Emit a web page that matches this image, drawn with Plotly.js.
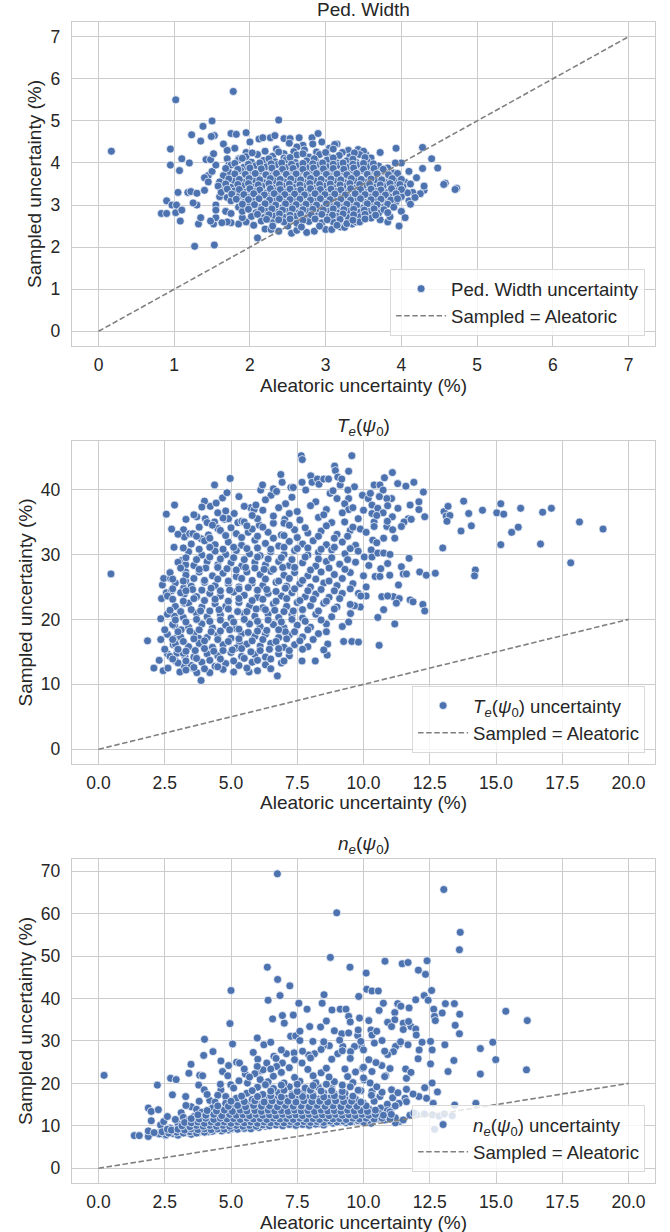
<!DOCTYPE html>
<html>
<head>
<meta charset="utf-8">
<script src="https://cdn.plot.ly/plotly-3.0.1.min.js"></script>
<style>html,body{margin:0;padding:0;background:#fff;}#chart{width:670px;height:1232px;}</style>
</head>
<body>
<div id="chart"></div>
<script>
// ---------- DATA ----------
const panelTitles = ['Ped. Width', '<i>T</i><sub><i>e</i></sub>(<i>ψ</i><sub>0</sub>)', '<i>n</i><sub><i>e</i></sub>(<i>ψ</i><sub>0</sub>)'];
const seriesNames = ['Ped. Width uncertainty', '<i>T</i><sub><i>e</i></sub>(<i>ψ</i><sub>0</sub>) uncertainty', '<i>n</i><sub><i>e</i></sub>(<i>ψ</i><sub>0</sub>) uncertainty'];
const lineName = 'Sampled = Aleatoric';
const xTitle = 'Aleatoric uncertainty (%)';
const yTitle = 'Sampled uncertainty (%)';
const pedDiag = [0, 7];
const profDiag = [0, 20];
const pedTicks = [0, 1, 2, 3, 4, 5, 6, 7];
const profXTicks = [0, 2.5, 5, 7.5, 10, 12.5, 15, 17.5, 20];
const teYTicks = [0, 10, 20, 30, 40];
const neYTicks = [0, 10, 20, 30, 40, 50, 60, 70];

const pedPts = [
[0.17,4.28],[1.02,5.5],[1.78,5.7],[2.38,5.02],[1.5,5.0],[1.38,4.87],[1.23,4.67],[1.35,4.52],[0.95,4.33],[0.95,3.95],[1.05,3.3],[1.1,4.1],[1.2,4.0],[1.07,3.82],[0.83,2.8],[0.9,2.8],[0.9,3.1],[0.97,3.0],[1.02,2.82],[1.03,3.0],[1.1,2.88],[1.08,2.62],[1.27,2.02],[1.53,2.05],[1.32,2.55],[1.35,2.7],[1.52,2.55],[1.55,2.7],[1.3,3.0],[1.25,3.05],[1.18,3.3],[1.22,3.32],[1.3,3.28],[1.4,3.35],[1.45,3.7],[1.4,3.65],[1.5,3.8],[1.55,3.95],[1.42,4.08],[1.48,4.08],[1.52,4.22],[1.53,4.65],[1.49,4.63],
[4.73,3.4],[4.71,3.37],[4.58,3.52],[4.56,3.49],[4.48,3.88],[4.4,4.1],[4.28,4.37],[4.28,3.87],[4.3,3.35],[4.3,3.45],[4.25,3.27],[4.2,3.65],[4.1,3.8],[4.0,4.0],[3.93,4.35],[3.92,4.0],[3.97,2.5],[3.82,2.6],[3.72,2.65],[3.72,4.25],[3.53,4.2],[3.43,4.32],[4.05,3.5],[4.1,3.1],[4.15,3.3],[3.95,3.3],
[1.75,4.7],[1.82,4.68],[1.95,4.72],[2.0,4.5],[2.12,4.57],[2.17,4.6],[2.27,4.6],[2.33,4.65],[2.45,4.58],[2.53,4.58],[2.65,4.6],[2.82,4.6],[2.9,4.7],[2.83,4.45],[3.15,4.45],[3.05,4.35],[3.3,4.3],
[2.1,2.22],[2.2,2.43],[2.28,2.42],[2.38,2.38],[2.55,2.33],[2.62,2.4],[2.75,2.35],[2.85,2.38],[3.0,2.42],[3.08,2.42],[3.2,2.48],[3.25,2.47],[3.35,2.55],[3.4,2.6],[2.5,2.5],[2.05,2.52],[1.95,2.6],[1.85,2.55],[1.75,2.58],[1.7,2.6],[1.63,2.58],[1.68,2.85],[1.75,2.8],[1.9,2.7],
[1.6,3.2],[1.55,3.0],[1.45,3.55],[1.62,3.35],[1.7,4.1],[1.72,3.95],[1.65,4.45],[1.8,4.35],[1.85,4.1],[1.95,4.25],[1.55,2.88],[1.48,2.62],[1.65,3.6],[1.7,4.3],
[2.52,4.47],[2.7,4.42],[2.95,4.5],[3.12,4.44],[2.62,4.38],
[2.2,4.28],[2.35,4.33],[2.58,4.27],[2.72,4.31],[2.88,4.26],[3.1,4.33],[3.22,4.25],[3.5,4.28],[2.45,4.22],
[1.95,4.15],[2.1,4.2],[2.3,4.16],[2.45,4.12],[2.62,4.19],[2.78,4.14],[2.92,4.2],[3.05,4.13],[3.18,4.18],[3.32,4.15],[3.45,4.2],[3.6,4.12],
[1.85,4.07],[2.02,4.02],[2.18,4.06],[2.33,4.03],[2.48,4.08],[2.6,4.01],[2.75,4.05],[2.88,4.02],[3.02,4.07],[3.15,4.0],[3.28,4.05],[3.4,4.02],[3.55,4.04],
[1.75,3.95],[1.92,3.9],[2.08,3.94],[2.22,3.91],[2.36,3.96],[2.5,3.9],[2.63,3.93],[2.77,3.89],[2.9,3.95],[3.03,3.91],[3.17,3.94],[3.3,3.9],[3.42,3.95],[3.56,3.91],[3.7,3.93],[3.82,3.88],
[1.72,3.78],[1.88,3.82],[2.0,3.77],[2.14,3.81],[2.28,3.79],[2.42,3.83],[2.55,3.78],[2.68,3.81],[2.82,3.77],[2.95,3.82],[3.08,3.79],[3.22,3.8],[3.35,3.77],[3.48,3.82],[3.62,3.78],[3.78,3.8],[3.9,3.76],
[1.65,3.7],[1.82,3.66],[1.96,3.69],[2.1,3.65],[2.24,3.7],[2.37,3.67],[2.5,3.71],[2.64,3.66],[2.77,3.69],[2.9,3.65],[3.04,3.7],[3.17,3.66],[3.3,3.69],[3.43,3.65],[3.57,3.7],[3.7,3.66],[3.85,3.68],[3.98,3.64],
[1.6,3.55],[1.78,3.58],[1.92,3.54],[2.05,3.57],[2.19,3.53],[2.33,3.58],[2.46,3.55],[2.6,3.57],[2.73,3.53],[2.86,3.58],[3.0,3.54],[3.13,3.57],[3.26,3.53],[3.39,3.58],[3.52,3.55],[3.66,3.57],[3.8,3.53],[3.93,3.57],[4.05,3.54],
[1.58,3.45],[1.75,3.42],[1.9,3.46],[2.03,3.43],[2.16,3.45],[2.3,3.41],[2.43,3.46],[2.57,3.43],[2.7,3.45],[2.83,3.41],[2.97,3.46],[3.1,3.42],[3.23,3.45],[3.36,3.41],[3.5,3.46],[3.63,3.43],[3.76,3.45],[3.9,3.41],[4.02,3.44],
[1.62,3.3],[1.8,3.34],[1.95,3.31],[2.08,3.33],[2.22,3.29],[2.35,3.34],[2.48,3.31],[2.62,3.33],[2.75,3.3],[2.88,3.34],[3.02,3.31],[3.15,3.33],[3.28,3.29],[3.41,3.34],[3.55,3.3],[3.68,3.33],[3.82,3.3],[3.95,3.34],[4.08,3.29],
[1.7,3.18],[1.86,3.22],[2.0,3.19],[2.13,3.21],[2.27,3.17],[2.4,3.22],[2.54,3.19],[2.67,3.21],[2.8,3.18],[2.93,3.22],[3.07,3.19],[3.2,3.21],[3.33,3.17],[3.46,3.22],[3.6,3.19],[3.73,3.21],[3.87,3.18],[4.0,3.2],
[1.75,3.1],[1.92,3.06],[2.06,3.09],[2.2,3.05],[2.33,3.1],[2.46,3.07],[2.6,3.09],[2.73,3.05],[2.86,3.1],[3.0,3.06],[3.13,3.09],[3.26,3.05],[3.4,3.1],[3.53,3.06],[3.66,3.09],[3.8,3.05],[3.93,3.08],
[1.85,2.95],[2.0,2.98],[2.14,2.94],[2.28,2.97],[2.41,2.93],[2.55,2.98],[2.68,2.95],[2.81,2.97],[2.95,2.93],[3.08,2.98],[3.21,2.94],[3.35,2.97],[3.48,2.93],[3.62,2.97],[3.75,2.94],
[1.9,2.85],[2.08,2.82],[2.22,2.86],[2.36,2.83],[2.5,2.85],[2.63,2.81],[2.77,2.86],[2.9,2.83],[3.04,2.85],[3.17,2.81],[3.3,2.86],[3.44,2.83],[3.57,2.85],[3.7,2.81],
[2.02,2.73],[2.18,2.7],[2.32,2.74],[2.46,2.71],[2.6,2.73],[2.74,2.69],[2.88,2.74],[3.02,2.71],[3.15,2.73],[3.3,2.7],[3.45,2.72],[3.6,2.69],
[2.15,2.62],[2.3,2.58],[2.45,2.6],[2.62,2.57],[2.78,2.61],[2.95,2.58],[3.1,2.6],[3.28,2.56],[3.45,2.6],
[2.03,4.24],[2.38,4.26],[2.7,4.22],[3.0,4.25],[3.38,4.24],
[1.9,4.11],[2.25,4.1],[2.53,4.13],[2.85,4.1],[3.1,4.12],[3.36,4.09],[3.52,4.13],
[1.8,3.99],[1.98,3.97],[2.13,4.0],[2.28,3.98],[2.42,4.0],[2.55,3.97],[2.7,3.99],[2.83,3.98],[2.96,4.0],[3.1,3.97],[3.23,4.0],[3.36,3.97],[3.5,3.99],[3.63,3.98],
[1.68,3.87],[1.84,3.85],[2.0,3.88],[2.15,3.86],[2.29,3.88],[2.43,3.85],[2.57,3.87],[2.7,3.85],[2.84,3.88],[2.97,3.86],[3.1,3.87],[3.24,3.85],[3.37,3.88],[3.5,3.85],[3.64,3.87],[3.76,3.85],
[1.8,3.74],[1.94,3.73],[2.07,3.75],[2.21,3.72],[2.35,3.75],[2.48,3.73],[2.61,3.74],[2.75,3.72],[2.88,3.75],[3.01,3.73],[3.15,3.74],[3.28,3.72],[3.41,3.75],[3.55,3.73],[3.68,3.74],[3.83,3.72],[3.95,3.75],
[1.72,3.62],[1.86,3.61],[1.99,3.63],[2.13,3.6],[2.27,3.63],[2.4,3.61],[2.54,3.62],[2.67,3.6],[2.8,3.63],[2.94,3.61],[3.07,3.62],[3.2,3.6],[3.34,3.63],[3.47,3.61],[3.6,3.62],[3.74,3.6],[3.88,3.63],[4.0,3.61],
[1.68,3.5],[1.84,3.49],[1.98,3.51],[2.11,3.48],[2.25,3.51],[2.39,3.49],[2.52,3.5],[2.66,3.48],[2.79,3.51],[2.92,3.49],[3.06,3.5],[3.19,3.48],[3.32,3.51],[3.45,3.49],[3.58,3.5],[3.72,3.48],[3.85,3.51],[3.98,3.49],[4.12,3.5],
[1.7,3.38],[1.86,3.37],[2.0,3.39],[2.13,3.36],[2.27,3.39],[2.4,3.37],[2.53,3.38],[2.67,3.36],[2.8,3.39],[2.93,3.37],[3.07,3.38],[3.2,3.36],[3.33,3.39],[3.46,3.37],[3.6,3.38],[3.73,3.36],[3.87,3.39],[4.0,3.37],
[1.76,3.26],[1.92,3.25],[2.05,3.27],[2.19,3.24],[2.32,3.27],[2.46,3.25],[2.59,3.26],[2.72,3.24],[2.86,3.27],[2.99,3.25],[3.12,3.26],[3.26,3.24],[3.39,3.27],[3.52,3.25],[3.66,3.26],[3.79,3.24],[3.93,3.27],
[1.82,3.14],[1.98,3.13],[2.12,3.15],[2.26,3.12],[2.39,3.15],[2.53,3.13],[2.66,3.14],[2.8,3.12],[2.93,3.15],[3.06,3.13],[3.2,3.14],[3.33,3.12],[3.46,3.15],[3.6,3.13],[3.73,3.14],[3.86,3.12],
[1.9,3.02],[2.06,3.01],[2.2,3.03],[2.34,3.0],[2.47,3.03],[2.61,3.01],[2.74,3.02],[2.88,3.0],[3.01,3.03],[3.15,3.01],[3.28,3.02],[3.41,3.0],[3.55,3.03],[3.68,3.01],[3.82,3.02],
[1.98,2.9],[2.15,2.89],[2.29,2.91],[2.43,2.88],[2.56,2.91],[2.7,2.89],[2.83,2.9],[2.97,2.88],[3.1,2.91],[3.24,2.89],[3.37,2.9],[3.51,2.88],[3.64,2.91],[3.77,2.89],
[2.1,2.78],[2.25,2.77],[2.39,2.79],[2.53,2.76],[2.67,2.79],[2.81,2.77],[2.95,2.78],[3.09,2.76],[3.23,2.79],[3.37,2.77],[3.52,2.78],[3.66,2.76],
[2.22,2.66],[2.38,2.65],[2.53,2.67],[2.7,2.64],[2.86,2.67],[3.02,2.65],[3.19,2.66],[3.36,2.64],[3.52,2.67],
[2.3,2.5],[2.68,2.48],[2.92,2.5],[3.15,2.52],
[3.85,2.72],[3.9,2.95],[4.0,2.85],[3.95,3.15],[4.12,3.02],[4.18,3.18],[3.82,2.82],[4.05,2.7]
];

const tePts = [
[0.47,27.0],[1.85,16.7],[2.09,12.5],[2.44,12.1],[2.62,12.5],[2.29,13.7],[2.35,16.9],[2.35,20.1],[2.38,23.2],[2.41,25.3],[2.46,26.3],[2.72,26.3],[2.56,24.1],[2.76,24.4],[2.56,36.2],[2.76,33.9],[2.87,37.6],[2.85,31.1],[3.21,33.8],[3.24,32.7],[2.87,20.5],[2.87,19.0],[2.91,17.1],[2.82,16.1],[3.12,18.4],[3.15,29.1],[3.29,28.4],[3.29,27.3],[3.29,25.9],[3.21,24.8],[3.24,23.9],[3.24,22.5],[3.07,11.9],[2.91,13.6],[2.6,14.7],[2.5,15.4],[2.96,14.8],[3.26,14.3],[3.24,12.8],[3.56,12.5],[3.71,11.8],[3.87,10.6],[3.63,17.3],[3.78,17.1],
[3.44,33.2],[3.56,33.2],[3.71,35.8],[3.88,32.4],[4.03,35.5],[4.15,33.0],[4.22,37.4],[4.38,40.7],[4.38,35.0],[4.44,37.9],[4.5,34.0],[4.68,38.7],[4.75,35.4],[4.85,39.5],[4.91,35.5],[4.97,41.7],[5.26,34.9],[5.12,36.3],[5.41,35.1],[5.65,33.4],[5.74,37.2],[5.87,36.9],[5.94,37.6],[6.12,39.9],[6.19,40.7],[6.07,34.5],[6.6,34.8],[6.51,39.1],[6.6,40.1],[6.72,39.7],[6.88,42.3],[6.93,41.1],[7.06,37.8],[7.03,35.4],[7.26,40.3],[7.35,40.3],[7.65,45.2],[7.69,44.6],[7.68,41.1],[7.82,39.9],[8.01,42.1],[8.06,41.1],[8.26,41.6],[8.32,40.8],[8.5,41.6],[8.68,41.6],[8.74,39.4],[8.85,39.8],[8.91,43.6],[8.94,42.9],[9.03,41.9],[9.12,40.7],[9.18,41.6],[9.44,42.8],[9.56,45.2],[9.66,40.4],[9.41,39.9],[9.44,38.6],[9.29,37.8],[9.44,36.9],[9.29,35.0],[9.88,33.9],[9.96,39.1],
[10.18,38.6],[10.26,39.4],[10.4,40.7],[10.62,40.7],[10.74,39.9],[10.79,41.8],[11.09,42.6],[11.06,38.6],[10.88,38.6],[10.32,37.6],[10.32,36.3],[10.54,37.1],[10.74,36.4],[10.91,37.5],[11.09,35.8],[11.29,40.9],[11.6,40.5],[11.9,41.1],[11.76,37.6],[12.09,38.1],[12.26,39.6],[12.09,36.9],[12.31,35.8],[11.69,35.5],[11.53,35.0],[11.43,34.3],[10.4,35.0],[10.4,34.3],[10.88,34.3],[10.76,32.5],[11.18,32.5],[10.35,32.2],[10.03,29.6],[10.29,30.7],[10.32,29.6],[10.54,30.2],[10.76,30.2],[10.91,28.6],[10.65,27.8],[10.44,26.6],[10.62,26.6],[10.99,26.8],[11.72,29.4],[11.43,28.1],[11.5,27.0],[11.62,27.0],[12.12,27.3],[12.37,26.8],[12.71,27.1],[11.32,25.3],[11.13,23.5],[11.35,23.2],[11.24,22.5],[11.76,23.0],[11.87,22.7],[12.24,22.3],[12.31,21.3],[10.69,23.5],[10.91,23.6],[10.76,21.5],[10.54,20.3],[11.18,19.3],[10.59,16.0],[10.1,25.0],[10.1,23.6],[9.81,24.0],[9.88,21.9],[9.66,22.1],[9.51,20.9],[9.44,19.6],[9.56,16.6],[9.81,16.5],[9.25,16.6],[8.65,16.2],[8.63,14.5],[8.5,15.3],[8.18,13.6],[7.68,13.6],[6.75,11.3],[5.68,11.9],[5.32,16.4],
[13.04,36.6],[13.12,35.9],[13.19,37.4],[13.26,36.0],[13.15,35.1],[12.99,31.0],[13.78,38.2],[13.68,33.6],[13.97,36.3],[14.07,34.4],[14.22,27.6],[14.19,26.7],[14.49,36.8],[15.03,36.4],[15.18,37.8],[15.29,36.2],[15.18,31.5],[15.59,33.4],[15.84,34.2],[15.93,37.1],[16.68,31.6],[16.76,36.5],[17.09,37.1],[17.82,28.7],[18.15,35.0],[19.04,33.9],
[4.0,38.2],[5.3,38.9],[6.3,38.4],[7.3,38.8],[8.2,38.1],[9.0,38.6],[10.6,38.9],
[3.9,37.3],[4.8,36.7],[5.5,37.4],[6.2,36.8],[6.8,37.2],[7.5,36.6],[8.0,37.5],[8.6,36.9],[9.6,37.2],[10.0,36.8],[11.3,37.1],
[3.3,35.4],[4.1,34.9],[4.7,35.6],[5.5,35.0],[6.0,35.5],[6.6,35.9],[7.0,34.8],[7.6,35.3],[8.3,35.7],[8.8,34.9],[9.8,35.5],[10.9,35.1],[11.8,35.4],
[3.0,33.1],[4.6,33.7],[5.2,33.2],[5.8,33.9],[6.4,33.4],[6.9,33.0],[7.4,33.8],[7.9,33.3],[8.4,33.6],[9.0,33.1],[9.5,33.7],[10.1,33.4],[11.1,33.8],
[3.5,31.6],[4.0,32.1],[4.4,31.5],[4.9,31.9],[5.4,31.4],[5.9,32.2],[6.3,31.7],[6.8,31.3],[7.2,32.0],[7.7,31.6],[8.1,32.1],[8.6,31.5],[9.2,31.9],[9.7,31.4],[10.5,31.8],
[3.4,30.4],[3.9,29.9],[4.4,30.5],[4.8,30.0],[5.2,30.6],[5.7,30.1],[6.1,29.8],[6.5,30.4],[7.0,30.0],[7.4,30.6],[7.9,29.9],[8.3,30.3],[8.8,30.7],[9.3,30.1],[9.8,30.5],[11.0,30.0],
[3.0,28.8],[3.6,28.3],[4.1,28.9],[4.5,28.4],[5.0,28.7],[5.4,28.2],[5.9,28.8],[6.3,28.4],[6.8,28.9],[7.2,28.3],[7.7,28.7],[8.2,28.2],[8.6,28.9],[9.1,28.5],[9.7,28.8],[10.2,28.3],
[2.7,27.2],[3.3,26.8],[3.8,27.3],[4.3,26.7],[4.7,27.1],[5.2,26.6],[5.6,27.3],[6.1,26.9],[6.5,27.4],[7.0,26.8],[7.4,27.2],[7.9,26.7],[8.4,27.3],[8.9,26.9],[9.5,27.2],[10.0,26.7],
[2.9,25.6],[3.5,25.1],[4.0,25.7],[4.4,25.2],[4.9,25.5],[5.3,25.0],[5.8,25.6],[6.2,25.2],[6.7,25.7],[7.1,25.1],[7.6,25.5],[8.0,25.0],[8.5,25.6],[9.0,25.2],[9.6,25.5],
[2.6,23.6],[3.1,24.1],[3.7,23.5],[4.2,24.0],[4.6,23.6],[5.1,24.2],[5.5,23.7],[6.0,23.4],[6.4,24.0],[6.9,23.6],[7.3,24.1],[7.8,23.5],[8.2,23.9],[8.7,23.4],[9.2,24.0],[9.9,23.6],
[2.9,22.0],[3.4,22.5],[3.9,21.9],[4.4,22.4],[4.8,22.0],[5.3,22.6],[5.7,22.1],[6.2,21.8],[6.6,22.4],[7.1,22.0],[7.5,22.6],[8.0,22.1],[8.5,22.5],[9.0,21.9],[9.5,22.3],
[2.6,20.8],[3.2,20.3],[3.7,20.9],[4.1,20.4],[4.6,20.7],[5.0,20.2],[5.5,20.9],[5.9,20.5],[6.4,20.8],[6.8,20.3],[7.3,20.7],[7.7,20.2],[8.2,20.8],[8.8,20.4],
[2.8,19.2],[3.4,18.8],[3.9,19.3],[4.3,18.7],[4.8,19.1],[5.2,18.6],[5.7,19.3],[6.1,18.9],[6.6,19.2],[7.0,18.7],[7.5,19.1],[8.0,18.8],[8.6,19.3],[9.2,18.9],
[2.6,17.7],[3.1,17.3],[3.6,17.8],[4.1,17.2],[4.5,17.6],[5.0,17.1],[5.4,17.8],[5.9,17.4],[6.3,17.7],[6.8,17.2],[7.2,17.6],[7.7,17.3],[8.3,17.8],
[2.9,16.2],[3.4,15.8],[3.8,16.3],[4.3,15.7],[4.7,16.1],[5.2,15.6],[5.6,16.2],[6.1,15.9],[6.5,16.3],[7.0,15.7],[7.4,16.1],[7.9,15.8],
[2.7,14.3],[3.2,14.8],[3.6,14.2],[4.1,14.7],[4.5,14.4],[5.0,14.9],[5.4,14.3],[5.9,14.6],[6.3,14.2],[6.8,14.7],[7.2,14.4],
[3.0,13.3],[3.5,12.9],[3.9,13.4],[4.4,12.8],[4.8,13.2],[5.3,12.9],[5.8,13.4],[6.3,13.0],[6.9,13.3],
[3.3,12.2],[4.2,11.8],[4.7,12.3],[5.1,11.9],[6.0,12.1],
[3.65,15.2],[4.35,15.1],[5.05,15.3],[5.75,15.0],[6.45,15.4],[3.45,18.2],[4.25,18.1],[4.95,18.4],[5.65,18.0],[6.35,18.3],[7.05,18.1],[3.85,21.3],[4.55,21.5],[5.25,21.2],[5.95,21.6],[6.65,21.4],[7.35,21.3],[3.55,24.6],[4.25,24.8],[4.95,24.5],[5.65,24.9],[6.35,24.6],[7.05,24.8],[4.05,27.9],[4.85,27.8],[5.55,28.0],[6.25,27.7],[6.95,28.0],
[3.6,36.1],[4.5,36.4],[5.8,36.0],[7.2,36.3],[8.5,36.1],[9.2,36.4],[10.5,36.0],
[3.8,34.2],[4.3,34.5],[5.0,34.1],[5.6,34.4],[6.2,34.2],[7.2,34.5],[7.8,34.1],[8.6,34.4],[9.6,34.2],
[3.7,32.8],[4.2,32.5],[4.8,32.9],[5.4,32.6],[6.0,32.8],[6.6,32.5],[7.0,32.9],[7.5,32.6],[8.3,32.8],[8.9,32.5],[9.4,32.8],
[3.2,31.0],[3.8,30.8],[4.2,31.1],[4.7,30.8],[5.1,31.1],[5.6,30.9],[6.0,31.0],[6.5,30.8],[7.0,31.1],[7.5,30.9],[7.9,31.0],[8.4,30.8],[8.9,31.1],[9.5,30.9],
[3.3,29.5],[3.7,29.2],[4.2,29.6],[4.6,29.3],[5.1,29.5],[5.5,29.2],[6.0,29.6],[6.4,29.3],[6.9,29.5],[7.3,29.2],[7.8,29.6],[8.3,29.3],[8.8,29.5],[9.4,29.2],
[3.1,27.9],[3.8,27.7],[4.5,28.0],[5.2,27.6],[5.9,27.9],[6.6,27.7],[7.4,28.0],[8.0,27.6],[8.7,27.9],[9.3,27.7],
[2.8,26.2],[3.2,25.9],[3.6,26.3],[4.0,26.0],[4.5,26.2],[4.9,25.9],[5.4,26.3],[5.8,26.0],[6.3,26.2],[6.8,25.9],[7.2,26.3],[7.7,26.0],[8.2,26.2],[8.7,25.9],[9.2,26.3],
[2.8,24.7],[3.3,24.4],[3.9,24.5],[4.6,24.4],[5.3,24.7],[6.0,24.5],[6.7,24.3],[7.4,24.7],[7.9,24.4],[8.4,24.6],[8.9,24.4],[9.5,24.7],
[2.8,23.1],[3.2,22.8],[3.6,23.2],[4.0,22.9],[4.4,23.1],[4.9,22.8],[5.3,23.2],[5.8,22.9],[6.2,23.1],[6.7,22.8],[7.1,23.2],[7.6,22.9],[8.1,23.1],[8.6,22.8],[9.1,23.2],
[2.7,21.4],[3.1,21.2],[3.5,21.5],[4.2,21.3],[4.9,21.6],[5.6,21.2],[6.3,21.5],[7.0,21.2],[7.7,21.5],[8.3,21.3],[8.9,21.6],
[2.9,19.9],[3.3,19.6],[3.7,20.0],[4.2,19.7],[4.6,19.9],[5.1,19.6],[5.5,20.0],[6.0,19.7],[6.4,19.9],[6.9,19.6],[7.3,20.0],[7.8,19.7],[8.4,19.9],
[2.5,18.4],[3.0,18.1],[3.8,18.4],[4.6,18.2],[5.3,18.5],[6.0,18.2],[6.8,18.4],[7.4,18.1],[7.9,18.4],[8.6,18.1],
[2.8,16.9],[3.2,16.6],[3.6,17.0],[4.0,16.7],[4.5,16.9],[4.9,16.6],[5.3,17.0],[5.8,16.7],[6.2,16.9],[6.7,16.6],[7.1,17.0],[7.6,16.7],[8.1,16.9],
[3.0,15.4],[3.3,15.1],[4.0,15.5],[4.7,15.2],[5.4,15.5],[6.1,15.2],[6.8,15.5],[7.2,15.2],[7.7,15.4],
[2.8,13.9],[3.3,13.6],[3.7,14.0],[4.2,13.7],[4.6,13.9],[5.1,13.6],[5.5,14.0],[6.0,13.7],[6.5,13.9],[7.0,13.6],
[3.6,12.6],[4.0,12.4],[4.5,12.7],[5.6,12.5],[6.5,12.4]
];

const nePts = [
[6.75,69.4],[13.03,65.7],[8.99,60.2],[13.65,55.6],[13.62,51.5],[8.75,49.7],[6.37,47.4],[9.49,47.4],[10.1,46.0],[10.81,48.8],[11.46,48.2],[11.68,48.5],[12.4,48.9],[12.07,46.7],[12.34,45.7],[6.76,44.5],[7.22,43.0],[5.0,41.9],[10.12,42.2],[10.32,41.8],[10.56,41.8],[6.4,39.6],[6.85,40.7],[8.51,40.9],[8.44,38.9],[7.56,38.9],[7.87,37.5],[9.82,40.5],[8.81,37.3],[9.12,37.5],[9.34,37.5],[9.44,35.8],[9.85,35.4],
[10.59,37.2],[10.75,38.9],[11.29,38.8],[11.41,38.2],[11.72,37.8],[11.97,39.7],[12.29,40.7],[12.44,39.6],[12.57,41.9],[13.09,38.8],[13.43,38.8],[12.65,37.5],[12.68,35.8],[12.71,34.8],[12.97,36.6],[13.63,36.3],[13.46,33.7],[13.62,31.7],[11.18,36.7],[11.18,35.0],[10.91,34.4],[11.06,33.4],[11.5,34.2],[11.5,32.7],[11.79,33.4],[11.97,32.8],[11.99,31.4],[15.37,37.0],[16.18,34.8],[14.88,29.7],[14.41,28.2],[14.99,25.6],[14.41,22.2],[16.15,23.2],[14.24,15.3],[13.44,14.9],[13.41,25.4],[13.19,22.8],[13.07,29.1],[12.53,29.9],[12.59,27.9],[12.53,24.6],[12.59,20.1],[12.31,19.0],[12.79,18.0],[12.63,15.3],[12.38,16.5],[12.09,16.9],[11.87,17.5],[11.62,18.6],[11.57,16.5],[11.62,15.7],[11.34,15.3],[11.06,18.5],[10.84,21.8],[11.62,21.2],[11.59,23.4],[11.79,22.6],[12.06,25.8],[12.1,27.9],[12.21,29.7],[11.68,29.1],[11.35,29.3],[11.21,28.7],[11.13,27.5],[10.91,26.8],[10.69,24.2],[10.47,24.9],[10.32,22.8],[9.96,23.6],[10.03,20.8],[10.25,20.1],[10.32,18.1],[10.62,16.9],[10.65,14.2],[10.32,12.2],[10.29,10.6],[11.35,11.0],[11.06,14.2],[10.76,12.2],
[0.21,21.9],[1.35,7.7],[1.54,7.7],[1.88,7.5],[1.88,8.8],[1.88,14.2],[1.99,13.4],[1.99,11.2],[2.22,19.6],[2.26,13.8],[2.25,8.3],[2.34,10.2],[2.46,11.0],[2.6,12.2],[2.53,7.7],[2.72,21.2],[2.93,20.9],[2.79,17.3],[3.12,13.1],[3.29,16.9],[3.41,22.4],[3.49,24.5],[3.82,21.9],[3.93,21.8],[3.78,19.6],[3.99,18.5],[4.0,30.4],[3.97,26.6],[4.32,27.5],[4.62,25.3],[4.62,18.5],[4.68,22.8],[4.88,21.8],[4.91,24.2],[4.96,34.1],[5.06,29.3],[4.99,19.7],[5.21,25.0],[5.32,24.8],[5.54,22.2],[5.62,20.1],[5.84,27.3],[5.99,30.7],[6.01,25.7],[6.12,23.0],[6.24,29.1],[6.5,29.7],[6.57,35.2],[6.94,36.0],[7.01,34.2],[7.25,31.1],[7.35,36.1],[7.44,31.2],[7.6,32.3],[7.97,33.4],[8.09,29.9],[8.38,33.3],[9.18,31.7],[9.44,31.9],[9.78,31.3],[10.28,32.6],[10.32,31.4],[10.41,29.5],[9.91,28.9],[9.66,28.7],[9.51,27.5],[9.22,28.7],[9.03,27.0],[8.71,28.9],[8.49,28.9],[8.15,27.0],[7.93,26.7],[7.68,24.8],[7.38,27.2],[7.09,27.0],[6.94,24.8],[6.72,24.0],[6.62,26.4],[6.35,24.8],[6.21,23.2],[5.99,24.0],
[11.75,12.5],[12.0,12.7],[12.3,12.8],[12.6,12.6],[12.85,12.3],[13.05,12.8],[13.35,12.4],[11.9,13.0],[11.2,10.7],[11.5,11.4],[12.68,9.2],
[2.7,9.5],[3.0,10.5],[3.2,12.0],[2.9,11.5],[3.5,14.5],[3.8,15.8],[4.2,16.0],[4.5,17.2],
[3.3,14.8],[3.7,13.9],[4.1,17.4],[4.4,15.6],[4.8,16.9],[5.1,18.9],[5.3,20.6],[4.6,19.8],[5.9,22.3],[6.1,20.9],[10.4,15.8],[10.7,17.9],[10.9,15.1],[11.1,16.6],[10.5,19.2],[11.3,17.8],[10.9,13.6],[11.2,14.7],[10.3,17.2],[9.9,18.3],[9.6,20.2],[5.5,23.4],[6.9,22.6],[8.4,22.5],[9.7,22.7],
[2.3,8.1],[2.55,7.9],[2.8,8.2],[3.0,7.8],[3.25,8.3],[3.5,8.0],[3.75,8.4],
[2.9,8.9],[3.15,8.6],[3.4,9.0],[3.65,8.7],[3.9,8.9],[4.15,8.6],[4.4,9.1],[4.65,8.8],[4.9,9.0],
[3.3,9.6],[3.55,9.3],[3.8,9.7],[4.05,9.4],[4.3,9.8],[4.55,9.5],[4.8,9.7],[5.05,9.4],[5.3,9.8],[5.55,9.5],[5.8,9.9],[6.05,9.6],[6.3,9.9],
[3.6,10.4],[3.85,10.1],[4.1,10.5],[4.35,10.2],[4.6,10.4],[4.85,10.1],[5.1,10.5],[5.35,10.2],[5.6,10.4],[5.85,10.1],[6.1,10.5],[6.35,10.2],[6.6,10.5],[6.85,10.3],[7.1,10.6],[7.35,10.3],[7.6,10.6],[7.85,10.4],[8.1,10.7],[8.35,10.5],[8.6,10.8],[8.85,10.6],[9.1,10.9],[9.35,10.7],[9.6,11.0],
[3.4,11.3],[3.7,11.0],[3.95,11.4],[4.2,11.1],[4.45,11.3],[4.7,11.0],[4.95,11.4],[5.2,11.1],[5.45,11.3],[5.7,11.0],[5.95,11.4],[6.2,11.1],[6.45,11.3],[6.7,11.0],[6.95,11.4],[7.2,11.1],[7.45,11.3],[7.7,11.0],[7.95,11.4],[8.2,11.1],[8.45,11.4],[8.7,11.2],[8.95,11.5],[9.2,11.3],[9.45,11.6],[9.7,11.4],[9.95,11.6],[10.2,11.3],[10.5,11.6],[10.8,11.4],
[3.6,12.2],[3.9,11.9],[4.2,12.3],[4.5,12.0],[4.8,12.2],[5.05,11.9],[5.3,12.3],[5.55,12.0],[5.8,12.2],[6.05,11.9],[6.3,12.3],[6.55,12.0],[6.8,12.2],[7.05,11.9],[7.3,12.3],[7.55,12.0],[7.8,12.2],[8.05,11.9],[8.3,12.3],[8.55,12.0],[8.8,12.2],[9.05,11.9],[9.3,12.3],[9.55,12.0],[9.8,12.2],[10.05,11.9],[10.3,12.3],[10.6,12.0],[10.9,12.2],[11.2,11.9],
[3.9,13.2],[4.25,12.9],[4.6,13.3],[4.9,13.0],[5.2,13.2],[5.5,12.9],[5.75,13.3],[6.0,13.0],[6.25,13.2],[6.5,12.9],[6.75,13.3],[7.0,13.0],[7.25,13.2],[7.5,12.9],[7.75,13.3],[8.0,13.0],[8.25,13.2],[8.5,12.9],[8.75,13.3],[9.0,13.0],[9.25,13.2],[9.5,12.9],[9.75,13.3],[10.0,13.0],[10.3,13.2],[10.6,12.9],[11.0,13.3],
[4.3,14.2],[4.7,13.9],[5.1,14.3],[5.4,14.0],[5.7,14.2],[6.0,13.9],[6.3,14.3],[6.6,14.0],[6.9,14.2],[7.2,13.9],[7.5,14.3],[7.8,14.0],[8.1,14.2],[8.4,13.9],[8.7,14.3],[9.0,14.0],[9.3,14.2],[9.6,13.9],[9.9,14.3],[10.2,14.0],
[4.8,15.3],[5.3,15.0],[5.7,15.4],[6.1,15.1],[6.4,15.3],[6.7,15.0],[7.0,15.4],[7.3,15.1],[7.6,15.3],[7.9,15.0],[8.2,15.4],[8.5,15.1],[8.8,15.3],[9.1,15.0],[9.4,15.4],[9.7,15.1],[10.0,15.3],
[5.2,16.5],[5.8,16.2],[6.3,16.6],[6.7,16.3],[7.1,16.5],[7.5,16.2],[7.9,16.6],[8.3,16.3],[8.7,16.5],[9.0,16.2],[9.3,16.6],[9.7,16.3],
[5.6,17.7],[6.2,17.4],[6.8,17.8],[7.3,17.5],[7.7,17.7],[8.1,17.4],[8.5,17.8],[8.9,17.5],[9.3,17.7],
[6.0,19.1],[6.6,18.8],[7.2,19.2],[7.8,18.9],[8.3,19.1],[8.8,18.8],[9.5,19.2],
[6.4,20.4],[7.0,20.1],[7.6,20.5],[8.2,20.2],[8.9,20.4],
[5.7,21.5],[6.6,21.7],[7.4,21.4],[8.1,21.8],[8.7,21.5],[9.4,21.6],[10.0,21.3],[10.8,21.6],
[6.5,23.4],[7.2,23.7],[7.9,23.3],[8.6,23.6],[9.3,23.4],[10.0,23.8],[11.0,23.5],
[6.7,25.9],[7.4,25.6],[8.0,26.0],[8.8,25.7],[9.5,25.9],[10.2,25.6],
[6.9,27.9],[7.7,27.6],[8.4,28.0],[9.2,27.7],[10.0,27.9],[10.8,27.6],
[7.6,30.1],[8.5,29.8],[9.1,30.2],[9.9,29.9],[10.7,30.1],[11.4,29.8],
[8.9,32.4],[9.8,32.6],[10.5,32.3],
[8.6,34.7],[9.5,34.5],[10.2,34.8],[11.7,34.6],
[2.1,8.4],[2.4,8.6],[2.65,8.3],[2.95,8.5],[3.2,8.3],[3.45,8.6],[3.7,8.3],[4.0,8.5],[4.3,8.7],
[2.6,9.2],[2.75,9.0],[3.0,9.2],[3.25,9.0],[3.5,9.3],[3.75,9.1],[4.0,9.3],[4.25,9.1],[4.5,9.3],[4.75,9.2],[5.0,9.4],[5.25,9.2],[5.5,9.4],[5.75,9.3],
[3.15,10.0],[3.45,9.8],[3.7,10.1],[3.95,9.9],[4.2,10.1],[4.45,9.9],[4.7,10.1],[4.95,9.9],[5.2,10.1],[5.45,9.9],[5.7,10.1],[5.95,9.9],[6.2,10.2],[6.45,10.0],[6.7,10.2],[6.95,10.0],[7.2,10.3],[7.45,10.1],[7.7,10.3],[7.95,10.1],[8.2,10.4],[8.5,10.2],
[3.25,10.8],[3.5,10.7],[3.75,10.9],[4.0,10.6],[4.25,10.9],[4.5,10.7],[4.75,10.9],[5.0,10.6],[5.25,10.9],[5.5,10.7],[5.75,10.9],[6.0,10.6],[6.25,10.9],[6.5,10.7],[6.75,10.9],[7.0,10.7],[7.25,11.0],[7.5,10.8],[7.75,11.0],[8.0,10.8],[8.25,11.0],[8.5,10.8],[8.75,11.1],[9.0,10.9],[9.25,11.1],[9.5,10.9],[9.8,11.2],[10.0,10.9],
[3.5,11.7],[3.8,11.6],[4.05,11.8],[4.35,11.5],[4.6,11.8],[4.85,11.6],[5.1,11.7],[5.35,11.5],[5.6,11.8],[5.85,11.6],[6.1,11.7],[6.35,11.5],[6.6,11.8],[6.85,11.6],[7.1,11.7],[7.35,11.5],[7.6,11.8],[7.85,11.6],[8.1,11.7],[8.35,11.5],[8.6,11.8],[8.85,11.6],[9.1,11.7],[9.35,11.5],[9.6,11.8],[9.85,11.6],[10.1,11.8],[10.4,11.6],[10.7,11.8],[11.0,11.6],
[3.75,12.6],[4.05,12.5],[4.35,12.7],[4.65,12.4],[4.95,12.7],[5.2,12.5],[5.45,12.6],[5.7,12.4],[5.95,12.7],[6.2,12.5],[6.45,12.6],[6.7,12.4],[6.95,12.7],[7.2,12.5],[7.45,12.6],[7.7,12.4],[7.95,12.7],[8.2,12.5],[8.45,12.6],[8.7,12.4],[8.95,12.7],[9.2,12.5],[9.45,12.6],[9.7,12.4],[9.95,12.7],[10.2,12.5],[10.45,12.7],[10.75,12.5],[11.05,12.7],
[4.1,13.6],[4.45,13.5],[4.75,13.7],[5.05,13.4],[5.35,13.7],[5.6,13.5],[5.9,13.6],[6.15,13.4],[6.4,13.7],[6.65,13.5],[6.9,13.6],[7.15,13.4],[7.4,13.7],[7.65,13.5],[7.9,13.6],[8.15,13.4],[8.4,13.7],[8.65,13.5],[8.9,13.6],[9.15,13.4],[9.4,13.7],[9.65,13.5],[9.9,13.6],[10.15,13.4],[10.45,13.7],
[4.5,14.7],[4.9,14.6],[5.25,14.8],[5.55,14.5],[5.85,14.8],[6.15,14.6],[6.45,14.7],[6.75,14.5],[7.05,14.8],[7.35,14.6],[7.65,14.7],[7.95,14.5],[8.25,14.8],[8.55,14.6],[8.85,14.7],[9.15,14.5],[9.45,14.8],[9.75,14.6],[10.1,14.7],
[5.0,15.8],[5.5,15.7],[5.9,15.9],[6.25,15.6],[6.55,15.9],[6.85,15.7],[7.15,15.8],[7.45,15.6],[7.75,15.9],[8.05,15.7],[8.35,15.8],[8.65,15.6],[8.95,15.9],[9.25,15.7],[9.55,15.8],[9.9,15.6],
[5.4,17.0],[6.0,16.9],[6.5,17.1],[6.9,16.8],[7.3,17.1],[7.7,16.9],[8.1,17.0],[8.5,16.8],[8.9,17.1],[9.2,16.9],[9.6,17.0],
[5.8,18.3],[6.5,18.2],[7.0,18.4],[7.5,18.1],[8.0,18.4],[8.4,18.2],[8.8,18.3],[9.2,18.1],[9.8,18.4],
[6.3,19.7],[6.9,19.6],[7.5,19.8],[8.1,19.5],[8.6,19.8],[9.2,19.6]
];

// ---------- STYLE ----------
const FONT = 'Liberation Sans, Arial, Helvetica, sans-serif';
const TXT = '#262626';
const BLUE = '#4C72B0';
const GRID = '#cccccc';
const TICK_SIZE = 17.5, LABEL_SIZE = 19, LEGEND_SIZE = 18.6;

function scatterTrace(pts, name, xa, ya, lg) {
  return {
    type: 'scatter', mode: 'markers', name: name,
    x: pts.map(p => p[0]), y: pts.map(p => p[1]),
    xaxis: xa, yaxis: ya, legend: lg,
    marker: {color: BLUE, size: 8, line: {color: '#ffffff', width: 0.7}},
    hoverinfo: 'skip'
  };
}
function diagTrace(d, xa, ya, lg) {
  return {
    type: 'scatter', mode: 'lines', name: lineName,
    x: d, y: d, xaxis: xa, yaxis: ya, legend: lg,
    line: {color: '#808080', width: 1.6, dash: '5.5px,2.6px'},
    hoverinfo: 'skip'
  };
}

const data = [
  scatterTrace(pedPts, seriesNames[0], 'x', 'y', 'legend'),
  diagTrace(pedDiag, 'x', 'y', 'legend'),
  scatterTrace(tePts, seriesNames[1], 'x2', 'y2', 'legend2'),
  diagTrace(profDiag, 'x2', 'y2', 'legend2'),
  scatterTrace(nePts, seriesNames[2], 'x3', 'y3', 'legend3'),
  diagTrace(profDiag, 'x3', 'y3', 'legend3')
];

const doms = [[0.7209, 1], [0.3609, 0.6391], [0, 0.2791]];

function axBase() {
  return {
    showgrid: true, gridcolor: GRID, gridwidth: 1,
    zeroline: false, showline: true, mirror: true,
    linecolor: GRID, linewidth: 1.25,
    ticks: 'outside', tickcolor: 'rgba(0,0,0,0)',
    tickfont: {family: FONT, size: TICK_SIZE, color: TXT},
    automargin: false
  };
}
function xAx(anchor, range, ticks, fmt) {
  return Object.assign(axBase(), {
    anchor: anchor, domain: [0, 1], range: range, ticklen: 3,
    tickmode: 'array', tickvals: ticks,
    ticktext: ticks.map(v => fmt ? v.toFixed(1) : String(v))
  });
}
function yAx(anchor, dom, range, ticks) {
  return Object.assign(axBase(), {
    anchor: anchor, domain: dom, range: range, ticklen: 7,
    tickmode: 'array', tickvals: ticks, ticktext: ticks.map(String),
    title: {text: yTitle, font: {family: FONT, size: LABEL_SIZE, color: TXT}, standoff: 3}
  });
}
function legendCfg(y) {
  return {
    x: 0.983, y: y, xanchor: 'right', yanchor: 'bottom',
    bgcolor: 'rgba(255,255,255,0.8)', bordercolor: '#d9d9d9', borderwidth: 1,
    font: {family: FONT, size: LEGEND_SIZE, color: TXT},
    tracegroupgap: 0, itemwidth: 50
  };
}

const titleAnns = panelTitles.map((t, i) => ({
  text: t, xref: 'paper', yref: 'paper', x: 0.5, y: doms[i][1],
  xanchor: 'center', yanchor: 'bottom', yshift: 0, showarrow: false,
  font: {family: FONT, size: LABEL_SIZE, color: TXT}
}));
const xTitleAnns = doms.map(d => ({
  text: xTitle, xref: 'paper', yref: 'paper', x: 0.5, y: d[0],
  xanchor: 'center', yanchor: 'middle', yshift: -39, showarrow: false,
  font: {family: FONT, size: LABEL_SIZE, color: TXT}
}));

const layout = {
  width: 670, height: 1232,
  margin: {l: 72, r: 15, t: 22, b: 49, pad: 0},
  paper_bgcolor: '#ffffff', plot_bgcolor: '#ffffff',
  font: {family: FONT, color: TXT},
  showlegend: true,
  xaxis: xAx('y', [-0.35, 7.35], pedTicks, false),
  yaxis: yAx('x', doms[0], [-0.35, 7.35], pedTicks),
  xaxis2: xAx('y2', [-1, 21], profXTicks, true),
  yaxis2: yAx('x2', doms[1], [-2.26, 47.46], teYTicks),
  xaxis3: xAx('y3', [-1, 21], profXTicks, true),
  yaxis3: yAx('x3', doms[2], [-3.47, 72.9], neYTicks),
  legend: legendCfg(0.7295),
  legend2: legendCfg(0.3704),
  legend3: legendCfg(0.0095),
  annotations: titleAnns.concat(xTitleAnns)
};

Plotly.newPlot('chart', data, layout, {staticPlot: true, displayModeBar: false});
</script>
</body>
</html>
